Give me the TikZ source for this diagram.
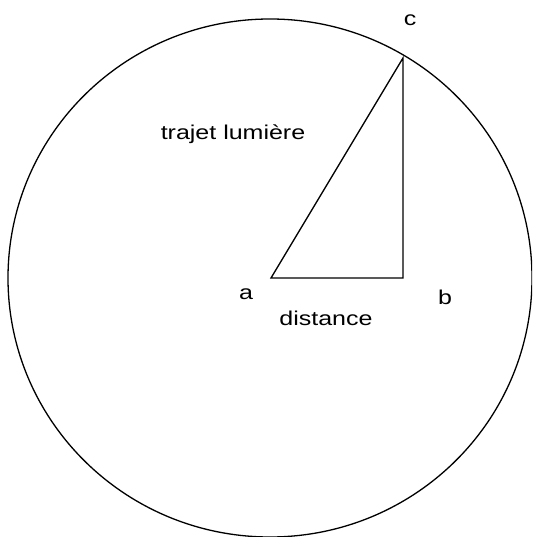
\documentclass[tikz,border=0pt]{standalone}
\usepackage{fontspec}
\setmainfont{Liberation Sans}[FakeStretch=1.25]
\usepackage{tikz}

\begin{document}
\begin{tikzpicture}[x=1pt,y=-1pt,line width=1.3pt,
  lbl/.style={inner sep=0pt,font=\fontsize{20}{24}\selectfont}]

% Frame
\useasboundingbox (0,0) rectangle (532,537);
\clip (0,0) rectangle (532,537);

% Circle
\draw (270,278) ellipse [x radius=262, y radius=259];

% Triangle corners
\coordinate (a) at (271,278);
\coordinate (b) at (403,278);
\coordinate (c) at (403,58);

% Triangle
\draw (a)--(b)--(c)--cycle;

% Labels
\node[lbl] (la) at (246,294) {a};
\node[lbl] (lb) at (445,297) {b};
\node[lbl] (lc) at (410,20) {c};
\node[lbl] (path) at (233,134) {trajet lumière};
\node[lbl] (dist) at (326,318) {distance};

\end{tikzpicture}
\end{document}
